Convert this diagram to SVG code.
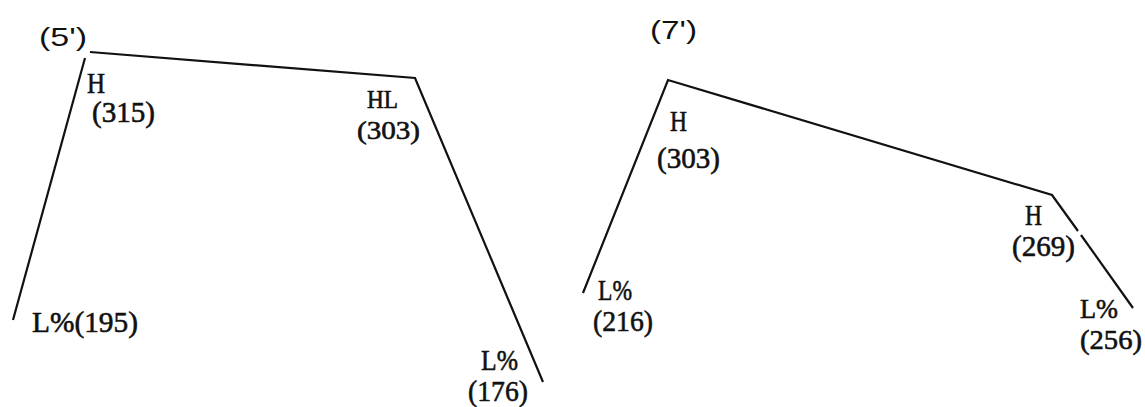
<svg xmlns="http://www.w3.org/2000/svg" width="1145" height="407" viewBox="0 0 1145 407">
<style>
.t{font-family:"Liberation Serif","DejaVu Serif",serif;font-size:30px;fill:#111;stroke:#111;stroke-width:0.6}
.s{font-size:28px}
.xs{font-size:26px}
.h{font-family:"Liberation Sans","DejaVu Sans",sans-serif;font-size:26px;fill:#111}
.c{fill:none;stroke:#111;stroke-width:2.2;stroke-linejoin:miter;stroke-linecap:butt}
</style>
<rect width="1145" height="407" fill="#fff"/>
<g id="connectors">
<polyline class="c" points="13,320 85,58"/>
<polyline class="c" points="90,52 415,78 543,382"/>
<polyline class="c" points="583,293 668,80 1052,195 1078,231"/>
<polyline class="c" points="1081,235 1133,308"/>
</g>
<g id="title-5"><text class="h" x="39" y="46" textLength="48" lengthAdjust="spacingAndGlyphs">(5')</text></g>
<g id="title-7"><text class="h" x="650" y="39" textLength="47" lengthAdjust="spacingAndGlyphs">(7')</text></g>
<g id="n5-H"><text class="t" x="87" y="93" textLength="18" lengthAdjust="spacingAndGlyphs">H</text><text class="t" x="92" y="122" textLength="63" lengthAdjust="spacingAndGlyphs">(315)</text></g>
<g id="n5-HL"><text class="t xs" x="367" y="108" textLength="31" lengthAdjust="spacingAndGlyphs">HL</text><text class="t xs" x="357" y="139" textLength="63" lengthAdjust="spacingAndGlyphs">(303)</text></g>
<g id="n5-L1"><text class="t" x="32" y="332" textLength="106" lengthAdjust="spacingAndGlyphs">L%(195)</text></g>
<g id="n5-L2"><text class="t" x="481" y="370" textLength="37" lengthAdjust="spacingAndGlyphs">L%</text><text class="t" x="468" y="401" textLength="60" lengthAdjust="spacingAndGlyphs">(176)</text></g>
<g id="n7-H1"><text class="t" x="670" y="131" textLength="17" lengthAdjust="spacingAndGlyphs">H</text><text class="t" x="657" y="168" textLength="63" lengthAdjust="spacingAndGlyphs">(303)</text></g>
<g id="n7-L1"><text class="t" x="598" y="300" textLength="34" lengthAdjust="spacingAndGlyphs">L%</text><text class="t" x="593" y="331" textLength="60" lengthAdjust="spacingAndGlyphs">(216)</text></g>
<g id="n7-H2"><text class="t" x="1025" y="225" textLength="17" lengthAdjust="spacingAndGlyphs">H</text><text class="t" x="1012" y="256" textLength="63" lengthAdjust="spacingAndGlyphs">(269)</text></g>
<g id="n7-L2"><text class="t s" x="1080" y="318" textLength="38" lengthAdjust="spacingAndGlyphs">L%</text><text class="t s" x="1080" y="349" textLength="62" lengthAdjust="spacingAndGlyphs">(256)</text></g>
</svg>
